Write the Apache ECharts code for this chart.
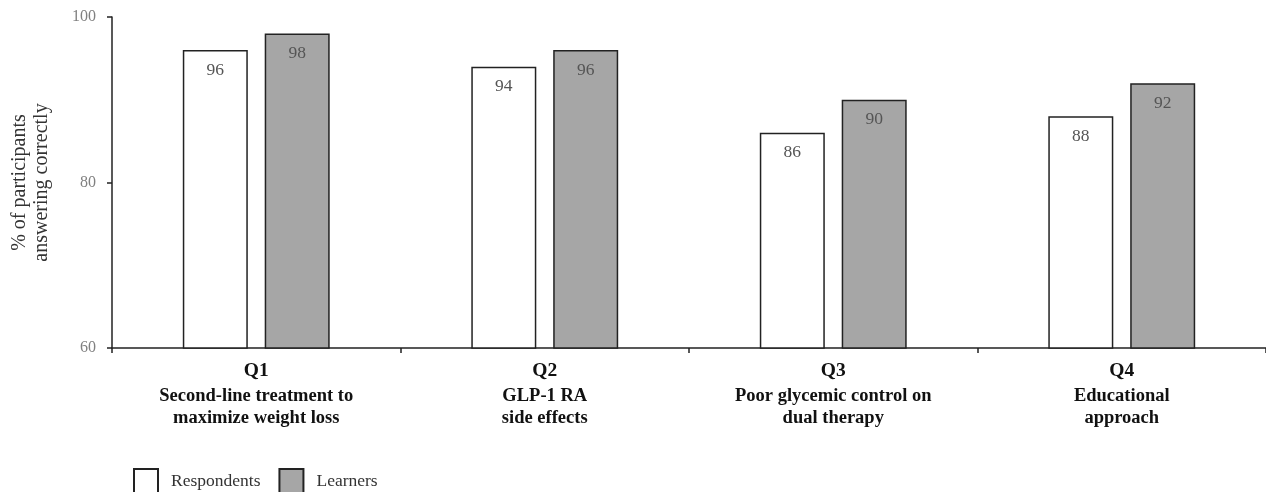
<!DOCTYPE html>
<html>
<head>
<meta charset="utf-8">
<script src="https://cdn.jsdelivr.net/npm/echarts@6/dist/echarts.min.js"></script>
<style>
  html, body { margin: 0; padding: 0; background: #fff; }
  #chart { width: 1266px; height: 492px; }
</style>
</head>
<body>
<div id="chart"></div>
<script>
// Survey results: share of participants answering each question correctly
const questions = ['Q1', 'Q2', 'Q3', 'Q4'];
const topics = [
  'Second-line treatment to\nmaximize weight loss',
  'GLP-1 RA\nside effects',
  'Poor glycemic control on\ndual therapy',
  'Educational\napproach'
];
const respondents = [96, 94, 86, 88];
const learners = [98, 96, 90, 92];
const yTicks = [60, 80, 100];

const serif = '"Liberation Serif", "Times New Roman", serif';
const chart = echarts.init(document.getElementById('chart'));

const barLabel = {
  show: true,
  position: 'insideTop',
  distance: 11,
  fontFamily: serif,
  fontSize: 17.5,
  color: '#555'
};

chart.setOption({
  animation: false,
  grid: { left: 112, right: 0, top: 17, bottom: 144 },
  legend: {
    left: 133,
    top: 468,
    padding: 0,
    itemWidth: 24,
    itemHeight: 24,
    itemGap: 18,
    textStyle: { fontFamily: serif, fontSize: 17.5, color: '#333', padding: [0, 0, 0, 8] },
    data: [
      { name: 'Respondents', icon: 'rect' },
      { name: 'Learners', icon: 'rect' }
    ]
  },
  xAxis: {
    type: 'category',
    data: questions,
    axisLine: { lineStyle: { color: '#222', width: 1.5 } },
    axisTick: { show: true, length: 5, inside: false, lineStyle: { color: '#222', width: 1.5 } },
    axisLabel: {
      margin: 9,
      interval: 0,
      formatter: (v, i) => '{q|' + v + '}\n{t|' + topics[i].split('\n').join('}\n{t|') + '}',
      rich: {
        q: { fontFamily: serif, fontSize: 19.5, fontWeight: 'bold', color: '#111', lineHeight: 28 },
        t: { fontFamily: serif, fontSize: 18.5, fontWeight: 'bold', color: '#111', lineHeight: 22 }
      }
    }
  },
  yAxis: {
    type: 'value',
    min: 60,
    max: 100,
    interval: 20,
    name: '% of participants\nanswering correctly',
    nameLocation: 'middle',
    nameGap: 59,
    nameTextStyle: { fontFamily: serif, fontSize: 20, color: '#333', lineHeight: 22 },
    axisLine: { show: true, lineStyle: { color: '#222', width: 1.5 } },
    axisTick: { show: true, length: 5, lineStyle: { color: '#222', width: 1.5 } },
    splitLine: { show: false },
    axisLabel: {
      margin: 16,
      fontFamily: serif,
      fontSize: 16,
      color: '#808080',
      formatter: v => (yTicks.includes(v) ? String(v) : '')
    }
  },
  series: [
    {
      name: 'Respondents',
      type: 'bar',
      data: respondents,
      barWidth: 65,
      barGap: '26%',
      itemStyle: { color: '#ffffff', borderColor: '#222', borderWidth: 1.5 },
      label: barLabel
    },
    {
      name: 'Learners',
      type: 'bar',
      data: learners,
      barWidth: 65,
      itemStyle: { color: '#a6a6a6', borderColor: '#222', borderWidth: 1.5 },
      label: barLabel
    }
  ]
});
</script>
</body>
</html>
